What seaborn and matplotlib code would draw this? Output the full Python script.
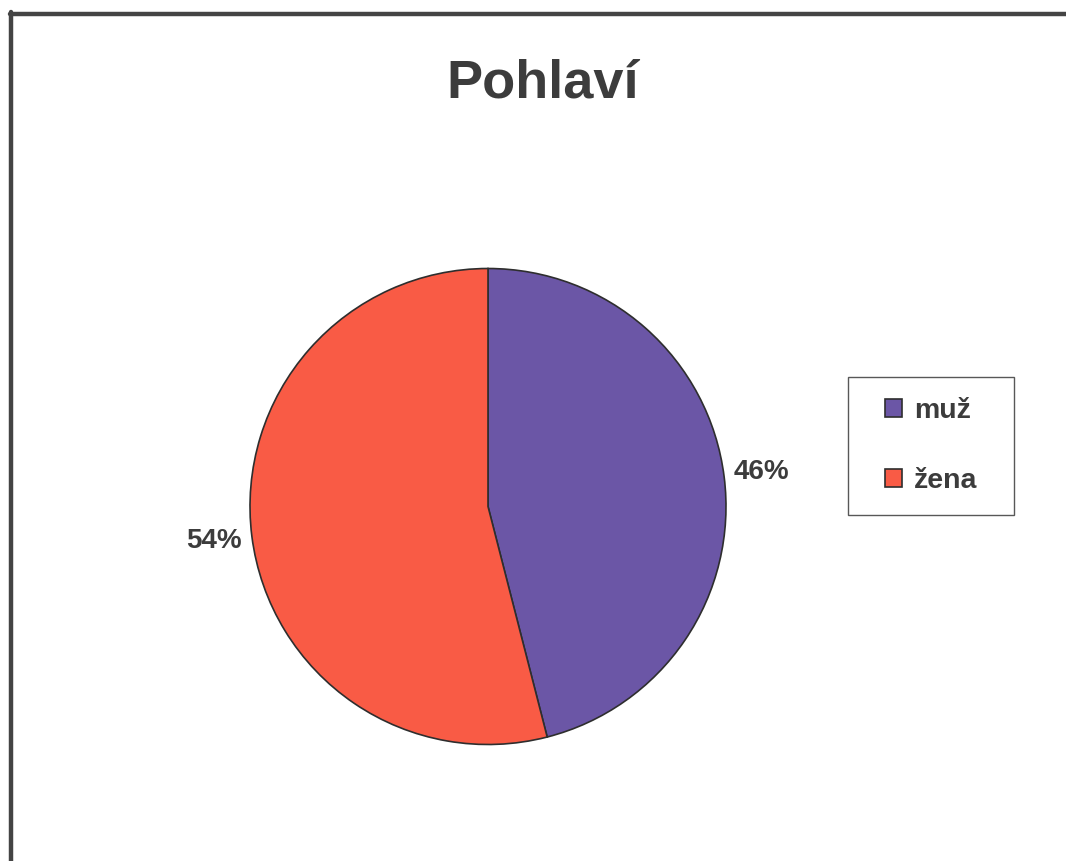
import matplotlib
matplotlib.use("Agg")
import matplotlib.pyplot as plt
import seaborn as sns
from matplotlib.lines import Line2D
from matplotlib.path import Path

# Data
categories = ["muž", "žena"]
shares = [46, 54]
title = "Pohlaví"

sns.set_theme(style="white")
plt.rcParams["font.family"] = ["Liberation Sans", "DejaVu Sans"]

palette = sns.color_palette(["#6B56A6", "#F95B45"])
text_color = "#3c3c3c"

W, H = 1066, 861
fig = plt.figure(figsize=(W / 100, H / 100), dpi=100)
fig.patch.set_facecolor("white")

# Axes spanning the whole figure in pixel-like units (y measured upward)
ax = fig.add_axes([0, 0, 1, 1])

cx, cy, r = 488, H - 506.5, 238
wedges, texts, autotexts = ax.pie(
    shares,
    colors=palette,
    startangle=90,
    counterclock=False,
    center=(cx, cy),
    radius=r,
    autopct="%.0f%%",
    pctdistance=1.16,
    wedgeprops=dict(edgecolor="#2e2e2e", linewidth=1.2),
    textprops=dict(fontsize=20, fontweight="bold", color=text_color),
    frame=True,
)
ax.set_xlim(0, W)
ax.set_ylim(0, H)
ax.set_aspect("equal")
ax.axis("off")

# Chart frame: top and left rules
fig.add_artist(Line2D([11 / W, 11 / W], [0, 1 - 12 / H], transform=fig.transFigure,
                      color="#444444", linewidth=3.2))
fig.add_artist(Line2D([9.5 / W, 1], [1 - 13.5 / H, 1 - 13.5 / H], transform=fig.transFigure,
                      color="#444444", linewidth=3.2))

fig.text(543 / W, 1 - 84 / H, title, ha="center", va="center",
         fontsize=39, fontweight="bold", color=text_color)

leg = ax.legend(
    wedges, categories,
    loc="center",
    bbox_to_anchor=(931 / W, 1 - 446 / H),
    bbox_transform=fig.transFigure,
    frameon=True, fancybox=False, shadow=False,
    prop=dict(size=20.5, weight="bold"),
    handlelength=0.62, handleheight=0.62,
    handletextpad=0.4, labelspacing=1.55, borderpad=0.75,
)


def wide_box(x0, y0, width, height, mutation_size):
    """Square legend frame with extra horizontal padding."""
    dx = 0.55 * mutation_size
    x0, x1 = x0 - dx, x0 + width + dx
    y1 = y0 + height
    return Path([(x0, y0), (x1, y0), (x1, y1), (x0, y1), (x0, y0)],
                closed=True)


frame = leg.get_frame()
frame.set_boxstyle(wide_box)
frame.set_edgecolor("#2e2e2e")
frame.set_linewidth(1.0)
for t in leg.get_texts():
    t.set_color(text_color)

fig.savefig("out.png", dpi=100, facecolor="white")
